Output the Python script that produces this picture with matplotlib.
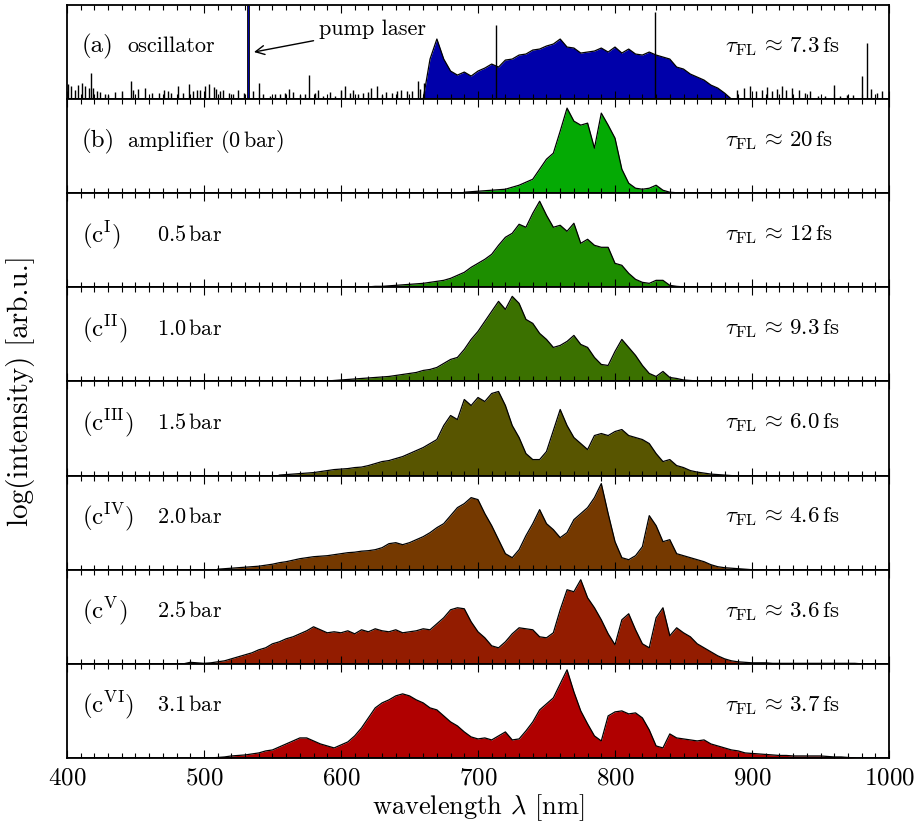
import numpy as np
import matplotlib.pyplot as plt
from matplotlib.ticker import MultipleLocator

plt.rcParams['font.family'] = 'serif'
plt.rcParams['font.serif'] = ['cmr10']
plt.rcParams['mathtext.fontset'] = 'cm'
plt.rcParams['axes.formatter.use_mathtext'] = True

# spectra digitised on a 5 nm grid, starting at *_start (nm), heights in arb. units
step = 5

osc_start = 660
osc = [0, 40, 60, 40, 28, 24, 27, 23, 28, 31, 35, 32, 39, 40, 44, 45, 49, 50, 53, 55,
       60, 52, 51, 46, 47, 48, 51, 47, 52, 46, 50, 45, 44, 47, 44, 42, 40, 32, 30, 25,
       22, 19, 14, 11, 6, 0]

# single-pixel noise spikes of the oscillator trace (wavelength, height)
osc_spike_wl = [401, 403, 406, 408, 411, 413, 416, 417.5, 419, 422, 424, 428, 430, 435, 440,
                446.5, 448, 452, 457, 462, 467, 471, 474, 476, 481, 485, 489, 492, 495, 497,
                501, 504, 507, 509, 512, 514, 518, 521, 525, 529, 535.5, 540, 543, 548, 552,
                555.5, 559, 562, 565, 570, 574, 577, 581, 583, 587, 592, 595.5, 600, 603, 606.5,
                609, 612.5, 616, 620, 622, 626, 630, 633, 637, 641, 644, 648, 651.5, 656, 658,
                660.5, 713, 829, 889, 894, 898.5, 903, 907, 911, 914.5, 918, 922, 925, 929,
                934, 939, 942, 948, 953, 959.5, 964, 969, 974, 980, 984, 987, 991, 995]
osc_spike_h = [15, 13, 9, 14, 16, 13, 11, 26, 11, 8, 7, 5, 4, 7, 8,
               18, 9, 10, 11, 6, 6, 9, 8, 6, 13, 6, 15, 8, 9, 9,
               13, 15, 12, 10, 8, 9, 6, 5, 9, 6, 8, 16, 5, 3, 5,
               5, 6, 10, 7, 4, 5, 24, 6, 9, 3, 7, 3, 9, 13, 6,
               9, 5, 6, 7, 11, 13, 4, 7, 6, 8, 9, 8, 8, 18, 10,
               16, 74, 87, 9, 11, 13, 8, 9, 12, 8, 10, 13, 9, 11,
               9, 6, 8, 3, 3, 14, 3, 4, 4, 23, 56, 10, 6, 8]
pump_wl = 532

amp_start = 690
amp = [1, 1.5, 2, 2.5, 3, 3.5, 4, 6, 8, 11, 14, 24, 34, 40, 62, 85, 72, 68, 70, 45,
       80, 68, 55, 24, 10, 5, 4, 5, 8, 3, 1, 0.5, 0]

c1_start = 620
c1 = [0.5, 1, 1, 1.5, 2, 2.5, 3, 3.5, 4, 5, 6, 7, 9, 12, 15, 20, 24, 28, 33, 42,
      50, 54, 63, 60, 74, 86, 72, 60, 62, 56, 64, 44, 48, 42, 40, 40, 24, 22, 14, 8,
      5, 4, 7, 7, 2, 1, 0.5, 0]

c2_start = 590
c2 = [0.5, 1, 1.5, 2, 2.5, 3, 3.5, 4, 4.5, 5, 6, 7, 8, 9, 11, 12, 14, 18, 22, 24,
      32, 42, 50, 60, 70, 80, 72, 85, 78, 62, 58, 48, 42, 34, 36, 40, 46, 37, 34, 24,
      17, 16, 30, 42, 34, 26, 16, 8, 5, 10, 4, 3, 1.5, 1, 0.5, 0]

c3_start = 555
c3 = [0.5, 1, 1.5, 2, 2.5, 3, 4, 5, 6, 6.5, 7, 8, 8.5, 10, 12, 14, 15, 17, 19, 22,
      25, 28, 32, 36, 50, 60, 56, 76, 70, 78, 74, 82, 84, 70, 50, 38, 22, 16, 16, 24,
      45, 66, 50, 38, 32, 26, 40, 42, 40, 44, 46, 40, 38, 36, 32, 22, 14, 16, 10, 8,
      5, 3.5, 2.5, 1.5, 1, 0.5, 0]

c4_start = 510
c4 = [0.5, 1, 1.5, 2, 2.5, 3, 3.5, 4.5, 5.5, 7, 8, 9.5, 11, 12, 13, 13.5, 14, 15, 16, 17,
      17.5, 18.5, 19, 20, 22, 26, 27, 25, 27, 30, 33, 37, 42, 46, 54, 62, 66, 72, 70, 56,
      44, 30, 16, 12, 20, 34, 46, 60, 46, 40, 32, 37, 50, 56, 62, 72, 86, 56, 28, 12,
      10, 14, 23, 54, 44, 28, 30, 16, 14, 12, 10, 8, 5, 3, 2, 1.5, 1, 0.5, 0]

c5_start = 485
c5 = [0, 1.5, 1, 0.5, 1, 2, 3, 5, 7, 9, 11, 14, 16, 20, 22, 25, 27, 30, 33, 37,
      34, 31, 32, 31, 33, 30, 34, 32, 35, 33, 32, 34, 31, 32, 33, 35, 34, 40, 46, 54,
      56, 55, 42, 32, 26, 18, 16, 22, 30, 36, 35, 34, 27, 26, 31, 54, 74, 72, 84, 66,
      56, 44, 30, 19, 44, 50, 34, 20, 16, 46, 56, 28, 36, 31, 27, 20, 16, 12, 8, 5,
      3, 2, 1.5, 1, 1, 1, 0.5, 0.5, 0.5, 0.5, 0.5, 0.5, 0.5, 0.5, 0.5, 0.5, 0.5, 0.5, 0.5, 0]

c6_start = 505
c6 = [0, 0.5, 1, 2, 2.5, 3, 4, 5, 7, 8, 11, 14, 17, 20, 20, 17, 14, 12, 10, 13,
      16, 22, 30, 40, 50, 55, 58, 62, 64, 62, 58, 55, 50, 48, 42, 36, 32, 26, 21, 19,
      20, 18, 22, 26, 18, 19, 27, 36, 48, 54, 60, 74, 88, 66, 47, 34, 22, 17, 42, 46,
      47, 44, 45, 40, 28, 12, 10, 24, 20, 19, 18, 17, 18, 14, 12, 10, 8, 7, 5, 4.5,
      4, 3.5, 3, 2.5, 2.5, 2, 2, 2, 2, 2, 1.5, 1, 1, 0.5, 0]

starts = [osc_start, amp_start, c1_start, c2_start, c3_start, c4_start, c5_start, c6_start]
spectra = [osc, amp, c1, c2, c3, c4, c5, c6]
colors = ['#0000aa', '#04aa04', '#1d8e00', '#3b7100', '#585500', '#753900', '#931c00', '#b00000']
tags = ['(a)', '(b)', r'$(\mathrm{c}^{\mathrm{I}})$', r'$(\mathrm{c}^{\mathrm{II}})$',
        r'$(\mathrm{c}^{\mathrm{III}})$', r'$(\mathrm{c}^{\mathrm{IV}})$',
        r'$(\mathrm{c}^{\mathrm{V}})$', r'$(\mathrm{c}^{\mathrm{VI}})$']
names = ['oscillator', r'amplifier $(0\,\mathrm{bar})$', r'$0.5\,\mathrm{bar}$',
         r'$1.0\,\mathrm{bar}$', r'$1.5\,\mathrm{bar}$', r'$2.0\,\mathrm{bar}$',
         r'$2.5\,\mathrm{bar}$', r'$3.1\,\mathrm{bar}$']
tau_fl = ['7.3', '20', '12', '9.3', '6.0', '4.6', '3.6', '3.7']

fig, axes = plt.subplots(8, 1, figsize=(9.17, 8.32), dpi=100, sharex=True)
fig.subplots_adjust(left=0.073, right=0.9695, top=0.994, bottom=0.089, hspace=0)

ymax = 94
for i, ax in enumerate(axes):
    vals = np.array(spectra[i], dtype=float)
    wl = starts[i] + step * np.arange(len(vals))
    ax.fill_between(wl, 0, vals, color=colors[i], lw=0)
    ax.plot(wl, vals, color='black', lw=0.9)
    ax.axhline(0, color='black', lw=1.2)
    ax.set_xlim(400, 1000)
    ax.set_ylim(0, ymax)
    ax.set_yticks([])
    ax.xaxis.set_major_locator(MultipleLocator(100))
    ax.xaxis.set_minor_locator(MultipleLocator(10))
    ax.tick_params(axis='x', which='both', direction='in', top=True, bottom=True,
                   labelsize=18, width=0.8, pad=7)
    ax.tick_params(axis='x', which='major', length=6)
    ax.tick_params(axis='x', which='minor', length=3.5)
    for s in ax.spines.values():
        s.set_linewidth(1.3)

    ypos = 0.55 if i == 1 else 0.56
    name_x = 444 if i < 2 else 466
    ax.text(411, ypos, tags[i], transform=ax.get_xaxis_transform(),
            fontsize=18, va='center', ha='left')
    ax.text(name_x, ypos, names[i], transform=ax.get_xaxis_transform(),
            fontsize=16, va='center', ha='left')
    ax.text(880, 0.56, r'$\tau_{\mathrm{FL}}\,\approx\,' + tau_fl[i] + r'\,\mathrm{fs}$',
            transform=ax.get_xaxis_transform(), fontsize=16.5, va='center', ha='left')

ax0 = axes[0]
ax0.vlines(osc_spike_wl, 0, osc_spike_h, color='black', lw=1.0)
ax0.vlines(pump_wl, 0, ymax, color='black', lw=2.0)
ax0.vlines(pump_wl, 0, ymax, color=colors[0], lw=0.7)
ax0.annotate('pump laser', xy=(536.5, 0.5), xycoords=ax0.get_xaxis_transform(),
             xytext=(584, 0.74), textcoords=ax0.get_xaxis_transform(),
             fontsize=16, va='center', ha='left',
             arrowprops=dict(arrowstyle='->', lw=1.0, color='black',
                             shrinkA=2, shrinkB=0, mutation_scale=16))

axes[-1].set_xlabel(r'wavelength $\lambda$ [nm]', fontsize=19, labelpad=2)
fig.text(0.022, 0.53, 'log(intensity) [arb.u.]', rotation=90, fontsize=21,
         va='center', ha='center')

fig.savefig('out.png', dpi=100)
